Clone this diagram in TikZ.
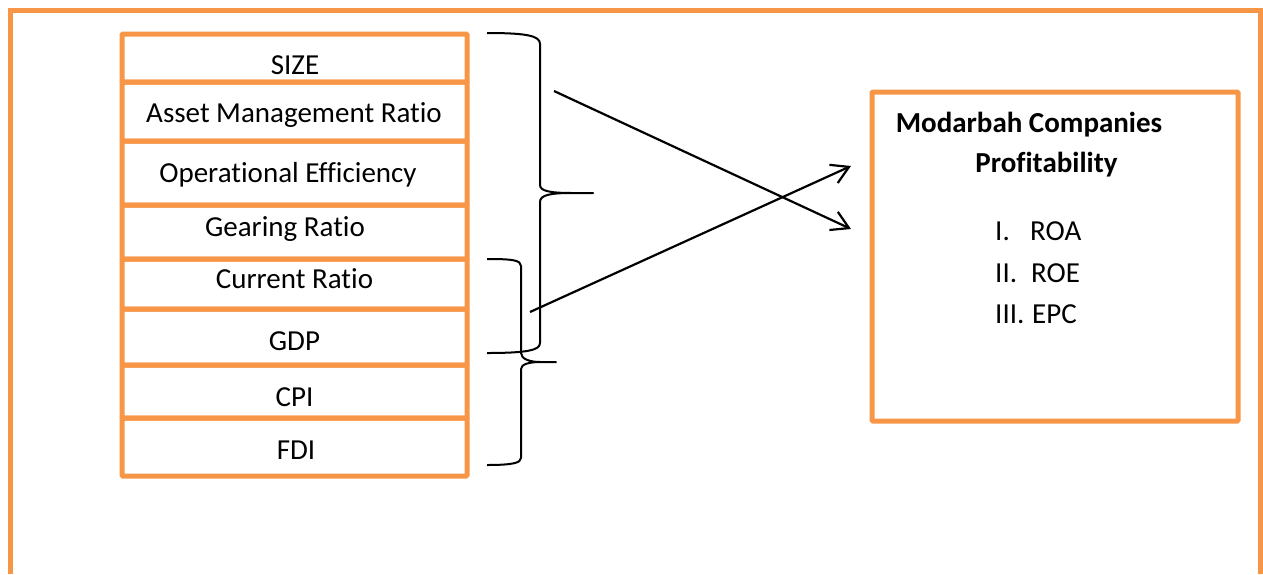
\documentclass[tikz,border=0pt]{standalone}
\usepackage{fontspec}
\setmainfont{Carlito}[Ligatures=CommonOff]
\usetikzlibrary{arrows.meta}
\definecolor{accent}{RGB}{247,150,70}
\begin{document}
\begin{tikzpicture}[x=1pt, y=-1pt,
  frame/.style={draw=accent, line width=5pt},
  row/.style={draw=accent, line width=5pt, rounded corners=1pt, minimum width=345pt,
    anchor=north west, inner sep=0pt, outer sep=0pt},
  lbl/.style={font=\fontsize{29}{34}\selectfont, anchor=base, inner sep=0pt},
  lblw/.style={font=\fontsize{29}{34}\selectfont, anchor=base west, inner sep=0pt},
  head/.style={font=\fontsize{29}{34}\selectfont\bfseries, anchor=base, inner sep=0pt},
  bracepath/.style={draw=black, line width=2pt, line join=round},
  arr/.style={draw=black, line width=2.2pt, -{Straight Barb[length=17pt, width=20pt]}}]
\useasboundingbox (0,0) rectangle (1263,574);

% outer frame, open at the bottom
\draw[frame] (10.5,574) -- (10.5,10.5) -- (1260.5,10.5) -- (1260.5,574);

% stack of variables
\node[row, minimum height=48pt] (r1) at (122,34) {};
\node[row, minimum height=59pt] (r2) at (122,82) {};
\node[row, minimum height=64pt] (r3) at (122,141) {};
\node[row, minimum height=54pt] (r4) at (122,205) {};
\node[row, minimum height=50pt] (r5) at (122,259) {};
\node[row, minimum height=56pt] (r6) at (122,309) {};
\node[row, minimum height=53pt] (r7) at (122,365) {};
\node[row, minimum height=58pt] (r8) at (122,418) {};

\node[lbl] (t1) at (295,74) {SIZE};
\node[lbl] (t2) at (294,122) {Asset Management Ratio};
\node[lbl] (t3) at (288,182) {Operational Efficiency};
\node[lbl] (t4) at (285,236) {Gearing Ratio};
\node[lbl] (t5) at (294.5,288) {Current Ratio};
\node[lbl] (t6) at (294.5,350) {GDP};
\node[lbl] (t7) at (294.5,406) {CPI};
\node[lbl] (t8) at (296,459) {FDI};

% dependent variable box
\node[row, minimum width=366pt, minimum height=329pt] (prof) at (872,92) {};
\node[head] (h1) at (1029,132) {Modarbah Companies};
\node[head] (h2) at (1046.5,172) {Profitability};
\node[lblw] (n1) at (995,240) {I.};
\node[lblw] (m1) at (1030,240) {ROA};
\node[lblw] (n2) at (995,282) {II.};
\node[lblw] (m2) at (1031,282) {ROE};
\node[lblw] (n3) at (995,323) {III.};
\node[lblw] (m3) at (1032,323) {EPC};

% braces
\draw[bracepath] (487,33) .. controls (528,33) and (540,36) .. (540,44)
  -- (540,185) .. controls (540,191) and (550,193) .. (572,193) -- (593,193)
  -- (572,193) .. controls (550,193) and (540,195) .. (540,202)
  -- (540,343) .. controls (540,350) and (528,353) .. (487,353);
\draw[bracepath] (487,259) .. controls (512,259) and (521,260) .. (521,266)
  -- (521,353) .. controls (521,359) and (530,362) .. (540,362) -- (556,362)
  -- (540,362) .. controls (530,362) and (521,364) .. (521,369)
  -- (521,458) .. controls (521,463) and (512,465) .. (487,465);

% arrows
\coordinate (a1s) at (554,91);
\coordinate (a1e) at (851,229);
\coordinate (a2s) at (530,312);
\coordinate (a2e) at (851,166);
\draw[arr] (a1s) -- (a1e);
\draw[arr] (a2s) -- (a2e);
\end{tikzpicture}
\end{document}
